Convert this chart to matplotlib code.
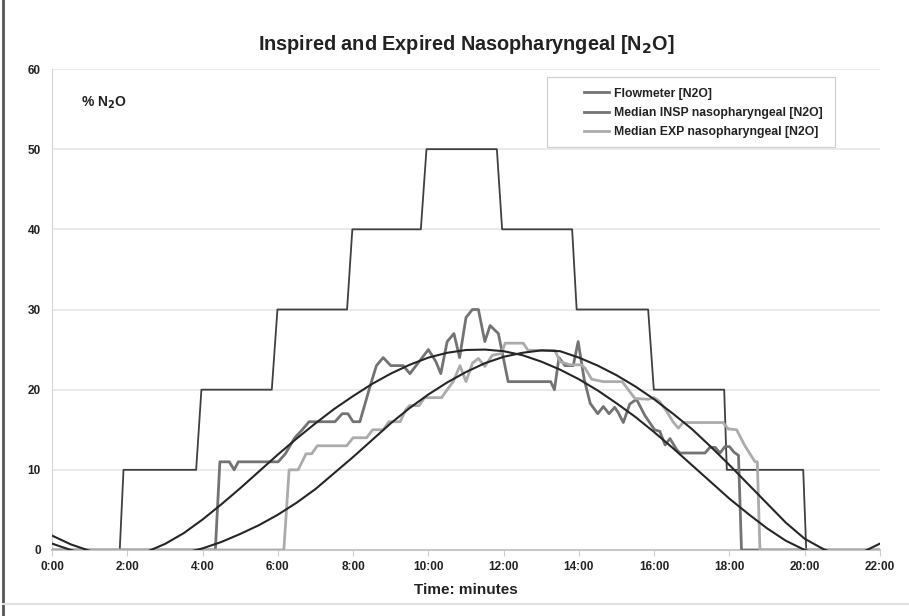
import numpy as np
import matplotlib
matplotlib.use("Agg")
import matplotlib.pyplot as plt
from matplotlib.lines import Line2D
from matplotlib.patches import Rectangle

plt.rcParams['font.family'] = ['Liberation Sans', 'DejaVu Sans']

# ---------------- data (minutes, % N2O) ----------------
flow_t = [0, 1.80, 1.90, 3.83, 3.97, 5.84, 5.99, 7.84, 7.98, 9.80, 9.95,
          11.82, 11.96, 13.82, 13.94, 15.84, 15.99, 17.86, 17.93, 19.96, 20.04, 22]
flow_v = [0, 0, 10, 10, 20, 20, 30, 30, 40, 40, 50,
          50, 40, 40, 30, 30, 20, 20, 10, 10, 0, 0]

insp_t = [0, 4.34, 4.46, 4.71, 4.84, 4.95, 6.01, 6.20, 6.45, 6.65, 6.83, 7.52,
          7.71, 7.86, 8.00, 8.18, 8.45, 8.62, 8.80, 9.00, 9.33, 9.51, 10.00,
          10.20, 10.33, 10.50, 10.68, 10.83, 11.00, 11.17, 11.33, 11.50, 11.64,
          11.86, 12.12, 13.25, 13.35, 13.47, 13.63, 13.85, 13.98, 14.14, 14.30,
          14.50, 14.65, 14.80, 14.95, 15.05, 15.18, 15.35, 15.53, 15.75, 16.01,
          16.15, 16.29, 16.42, 16.60, 16.68, 17.35, 17.48, 17.62, 17.75, 17.88,
          18.00, 18.12, 18.24, 18.32, 22]
insp_v = [0, 0, 11, 11, 10, 11, 11, 12, 14, 15, 16, 16,
          17, 17, 16, 16, 20.4, 23, 24, 23, 23, 22, 25,
          23.5, 22, 26, 27, 24, 29, 30, 30, 26, 28,
          27, 21, 21, 20, 24, 23, 23, 26, 21.3, 18.3,
          17, 17.9, 17, 17.8, 17.1, 15.9, 18.2, 18.8, 16.8, 15,
          14.8, 13.1, 13.9, 12.5, 12.1, 12.1, 12.8, 12.8, 12.1, 12.9,
          12.9, 12.2, 11.8, 0, 0]

exp_t = [0, 6.16, 6.30, 6.54, 6.75, 6.90, 7.05, 7.83, 8.00, 8.36, 8.52, 8.80,
         8.95, 9.25, 9.40, 9.50, 9.75, 9.90, 10.35, 10.50, 10.66, 10.84, 11.00,
         11.17, 11.33, 11.50, 11.70, 11.94, 12.04, 12.52, 12.65, 13.36, 13.50,
         13.76, 14.06, 14.16, 14.34, 14.65, 15.15, 15.31, 15.49, 15.84, 16.00,
         16.15, 16.33, 16.50, 16.64, 16.77, 17.83, 17.97, 18.19, 18.41, 18.68,
         18.74, 18.81, 22]
exp_v = [0, 0, 10, 10, 12, 12, 13, 13, 14, 14, 15, 15,
         16, 16, 17.5, 18, 18, 19, 19, 20, 21, 23, 21,
         23.3, 23.9, 22.9, 24.3, 24.5, 25.8, 25.8, 24.9, 24.9, 23.5,
         23.1, 23.1, 22.7, 21.3, 21, 21, 20, 18.9, 18.8, 19,
         18.5, 17.3, 16, 15.2, 15.9, 15.9, 15.1, 15, 13, 11,
         11, 0, 0]

# trendlines (every 0.5 min; values below 0 are clipped)
trend_t = [0, 0.5, 1, 1.5, 2, 2.5, 3, 3.5, 4, 4.5, 5, 5.5, 6, 6.5, 7, 7.5, 8,
           8.5, 9, 9.5, 10, 10.5, 11, 11.5, 12, 12.5, 13, 13.5, 14, 14.5, 15,
           15.5, 16, 16.5, 17, 17.5, 18, 18.5, 19, 19.5, 20, 20.5, 21, 21.5, 22]
trend_insp = [1.8, 0.7, -0.1, -0.6, -0.7, -0.25, 0.75, 2.1, 3.8, 5.7, 7.7, 9.8,
              11.9, 13.9, 15.8, 17.6, 19.2, 20.7, 22.0, 23.1, 24.0, 24.6, 24.95,
              25.0, 24.8, 24.3, 23.5, 22.5, 21.3, 19.9, 18.3, 16.6, 14.7, 12.7,
              10.6, 8.5, 6.4, 4.5, 2.7, 1.15, 0.0, -0.6, -0.8, -0.35, 0.8]
trend_exp = [0.8, 0.0, -0.6, -1.0, -1.2, -1.1, -0.8, -0.4, 0.2, 1.0, 2.0, 3.1,
             4.4, 5.9, 7.6, 9.6, 11.6, 13.7, 15.8, 17.7, 19.4, 20.9, 22.2,
             23.3, 24.1, 24.6, 24.9, 24.8, 24.0, 23.0, 21.8, 20.4, 18.8, 17.0,
             15.1, 12.9, 10.6, 8.2, 5.8, 3.4, 1.4, 0.1, -0.8, -1.2, -1.0]

x_ticks = [0, 2, 4, 6, 8, 10, 12, 14, 16, 18, 20, 22]
x_labels = ['0:00', '2:00', '4:00', '6:00', '8:00', '10:00', '12:00',
            '14:00', '16:00', '18:00', '20:00', '22:00']
y_ticks = [0, 10, 20, 30, 40, 50, 60]

labels = ['Flowmeter [N2O]', 'Median INSP nasopharyngeal [N2O]',
          'Median EXP nasopharyngeal [N2O]']

# ---------------- figure ----------------
W, H = 909, 616
fig = plt.figure(figsize=(W/100, H/100), dpi=100)
ax = fig.add_axes([52/W, 1-550/H, 828/W, 481/H])

c_flow = '#404040'
c_insp = '#737373'
c_exp = '#ababab'
c_trend = '#262626'

l1, = ax.plot(flow_t, flow_v, color=c_flow, lw=1.3, zorder=3)
l2, = ax.plot(insp_t, insp_v, color=c_insp, lw=2.0, zorder=4)
l3, = ax.plot(exp_t, exp_v, color=c_exp, lw=2.0, zorder=4)
ax.plot(trend_t, trend_insp, color=c_trend, lw=1.5, zorder=5)
ax.plot(trend_t, trend_exp, color=c_trend, lw=1.5, zorder=5)

ax.set_xlim(0, 22)
ax.set_ylim(0, 60)
ax.set_xticks(x_ticks)
ax.set_xticklabels(x_labels)
ax.set_yticks(y_ticks)
ax.grid(axis='y', color='#e6e6e6', lw=1.2, zorder=0)
ax.set_axisbelow(True)
for s in ['top', 'right']:
    ax.spines[s].set_visible(False)
ax.spines['left'].set_color('#d4d4d4')
ax.spines['bottom'].set_color('#c8c8c8')
ax.spines['bottom'].set_linewidth(1.5)
ax.tick_params(axis='x', length=4, color='#d0d0d0', pad=4,
               labelsize=8.5, labelcolor='#222222')
ax.tick_params(axis='y', length=0, pad=8, labelsize=8.5, labelcolor='#222222')
for lab in ax.get_xticklabels() + ax.get_yticklabels():
    lab.set_fontweight('bold')

ax.set_xlabel('Time: minutes', fontsize=11, fontweight='bold', color='#222222',
              labelpad=7)
ax.set_title('Inspired and Expired Nasopharyngeal [N$_\\mathbf{2}$O]', fontsize=14.3,
             fontweight='bold', color='#222222', pad=14)
ax.text(0.035, 0.93, '% N$_\\mathbf{2}$O', transform=ax.transAxes, fontsize=10,
        fontweight='bold', color='#222222', va='center', ha='left')

# legend: entries + separate frame like the original
leg = fig.legend([l2, l2, l3], labels, loc='upper left',
                 bbox_to_anchor=(584/W, 1-87.5/H), fontsize=8.8, frameon=False,
                 handlelength=2.05, borderpad=0.0, labelspacing=0.6,
                 handletextpad=0.4, borderaxespad=0)
for t in leg.get_texts():
    t.set_fontweight('bold')
    t.set_color('#222222')
fig.add_artist(Rectangle((547/W, 1-147/H), 288/W, 70/H, transform=fig.transFigure,
                         facecolor='white', edgecolor='#d0d0d0', lw=0.9, zorder=1))
leg.set_zorder(6)

# outer frame of the chart image
fig.add_artist(Line2D([3/W, 3/W], [0, 1], color='#555555', lw=2))
fig.add_artist(Line2D([3/W, 1], [1-604/H, 1-604/H], color='#e0e0e0', lw=1.5))

fig.savefig('out.png', dpi=100)
